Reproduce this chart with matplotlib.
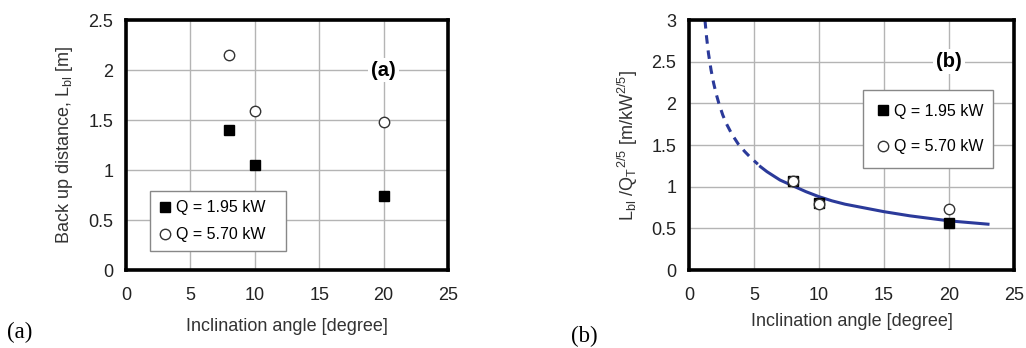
import matplotlib
matplotlib.use("Agg")
import matplotlib.pyplot as plt

plt.rcParams['font.family'] = ['Liberation Sans', 'DejaVu Sans']
plt.rcParams['mathtext.default'] = 'regular'

# Panel (a) data
angle = [8, 10, 20]
lbl_q195 = [1.40, 1.05, 0.74]
lbl_q570 = [2.15, 1.59, 1.48]

# Panel (b) data (normalised)
norm_q195 = [1.07, 0.81, 0.57]
norm_q570 = [1.07, 0.79, 0.73]

# Correlation curve
curve_dash_x = [1.23, 1.35, 1.5, 1.7, 1.9, 2.1, 2.3, 2.6, 2.9, 3.3, 3.8, 4.3, 4.8, 5.3]
curve_dash_y = [3.0, 2.80, 2.60, 2.40, 2.24, 2.11, 2.00, 1.86, 1.75, 1.63, 1.51, 1.42, 1.34, 1.27]
curve_solid_x = [5.5, 6.0, 6.5, 7.0, 8.0, 9.0, 10.0, 11.0, 12.0, 13.0, 14.0, 15.0, 16.0, 17.0, 18.0, 19.0, 20.0, 21.5, 23.0]
curve_solid_y = [1.24, 1.18, 1.13, 1.08, 1.01, 0.94, 0.88, 0.83, 0.79, 0.76, 0.73, 0.70, 0.675, 0.65, 0.63, 0.61, 0.59, 0.57, 0.55]

labels = ['Q = 1.95 kW', 'Q = 5.70 kW']
xticks = [0, 5, 10, 15, 20, 25]

fig = plt.figure(figsize=(10.26, 3.48), dpi=100)
axa = fig.add_axes([0.1228, 0.2241, 0.3138, 0.7184])
axb = fig.add_axes([0.6715, 0.2241, 0.3168, 0.7184])

curve_color = '#2b3a9a'
FS = 13


def style(ax, ymax, ystep_labels, lpad):
    ax.set_xlim(0, 25)
    ax.set_ylim(0, ymax)
    ax.set_xticks(xticks)
    ax.set_xticklabels([str(t) for t in xticks])
    ax.set_yticks([v for v, _ in ystep_labels])
    ax.set_yticklabels([s for _, s in ystep_labels])
    ax.grid(True, color='#b4b4b4', linewidth=1.0)
    ax.set_axisbelow(True)
    for sp in ax.spines.values():
        sp.set_linewidth(2.6)
        sp.set_color('black')
    ax.tick_params(length=0, labelsize=FS, colors='#222222')
    ax.tick_params(axis='x', pad=12)
    ax.tick_params(axis='y', pad=9)
    ax.set_xlabel('Inclination angle [degree]', fontsize=FS, color='#333333', labelpad=lpad)


style(axa, 2.5, [(0, '0'), (0.5, '0.5'), (1, '1'), (1.5, '1.5'), (2, '2'), (2.5, '2.5')], 10)
style(axb, 3, [(0, '0'), (0.5, '0.5'), (1, '1'), (1.5, '1.5'), (2, '2'), (2.5, '2.5'), (3, '3')], 7)

# Panel (a)
axa.plot(angle, lbl_q195, linestyle='none', marker='s', ms=7.5, mfc='black', mec='black', label=labels[0], zorder=3)
axa.plot(angle, lbl_q570, linestyle='none', marker='o', ms=7.5, mfc='white', mec='#333333', mew=1.0, label=labels[1], zorder=3)
axa.set_ylabel('Back up distance, L$_{bl}$ [m]', fontsize=FS, color='#333333', labelpad=10)
axa.text(20, 2.0, '(a)', fontsize=14.5, fontweight='bold', ha='center', va='center',
         bbox=dict(facecolor='white', edgecolor='none', pad=2), zorder=4)
axa.legend(loc='lower left', bbox_to_anchor=(0.075, 0.076, 0.422, 0.24), mode='expand',
           borderaxespad=0, fancybox=False, edgecolor='#888888', framealpha=1,
           fontsize=11.5, handlelength=0.8, handletextpad=0.3, labelspacing=0.75,
           borderpad=0.55)

# Panel (b)
axb.plot(curve_dash_x, curve_dash_y, color=curve_color, lw=2.2, linestyle=(0, (2.8, 2.2)), zorder=2)
axb.plot(curve_solid_x, curve_solid_y, color=curve_color, lw=2.2, zorder=2)
axb.plot(angle, norm_q195, linestyle='none', marker='s', ms=7.5, mfc='black', mec='black', label=labels[0], zorder=3)
axb.plot(angle, norm_q570, linestyle='none', marker='o', ms=7.5, mfc='white', mec='#333333', mew=1.0, label=labels[1], zorder=3)
axb.set_ylabel('L$_{bl}$ /Q$_T$$^{2/5}$ [m/kW$^{2/5}$]', fontsize=FS, color='#333333', labelpad=8)
axb.text(20, 2.5, '(b)', fontsize=14.5, fontweight='bold', ha='center', va='center',
         bbox=dict(facecolor='white', edgecolor='none', pad=2), zorder=4)
axb.legend(loc='lower left', bbox_to_anchor=(0.535, 0.408, 0.40, 0.288), mode='expand',
           borderaxespad=0, fancybox=False, edgecolor='#888888', framealpha=1,
           fontsize=11.5, handlelength=0.8, handletextpad=0.3, labelspacing=1.3,
           borderpad=0.85)

# Panel letters under the plots
fig.text(0.007, 0.045, '(a)', fontsize=16.5, family='Liberation Serif', ha='left', va='center')
fig.text(0.557, 0.032, '(b)', fontsize=16.5, family='Liberation Serif', ha='left', va='center')

fig.savefig('out.png', dpi=100)
